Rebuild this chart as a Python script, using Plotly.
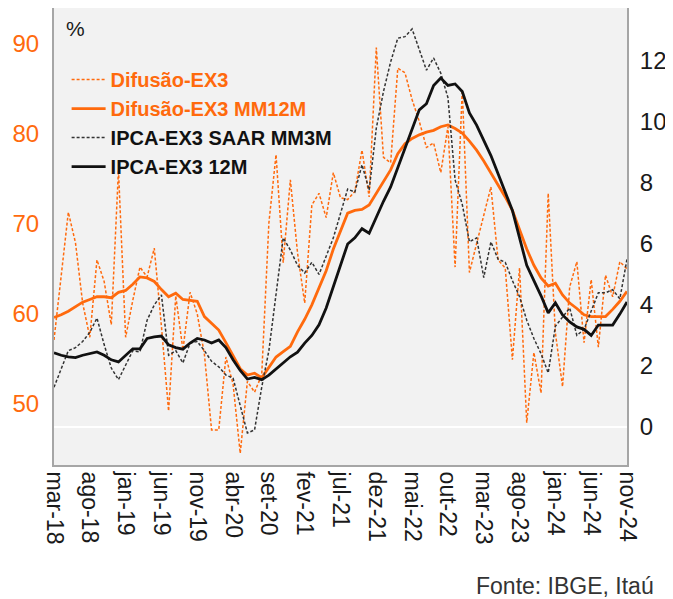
import plotly.graph_objects as go

# ---- data ----
MONTH_ABBR = ["jan", "fev", "mar", "abr", "mai", "jun", "jul", "ago", "set", "out", "nov", "dez"]
START_YEAR, START_MONTH, N_MONTHS = 2018, 3, 81
months = []
for k in range(N_MONTHS):
    m = (START_MONTH - 1 + k) % 12
    y = START_YEAR + (START_MONTH - 1 + k) // 12
    months.append(f"{MONTH_ABBR[m]}-{str(y)[2:]}")

tick_labels = months[::5]

difusao = [57.1, 64.0, 71.3, 67.9, 61.2, 57.4, 66.0, 63.6, 58.8, 76.0,
           57.4, 61.5, 65.2, 64.1, 67.3, 58.6, 49.2, 62.0, 56.0, 62.4,
           60.0, 55.5, 47.1, 47.1, 55.2, 52.2, 44.5, 52.5, 51.3, 53.2,
           70.1, 77.7, 65.7, 74.9, 66.8, 61.2, 72.1, 73.4, 70.7, 75.7,
           72.9, 72.7, 73.6, 78.2, 73.0, 89.6, 77.4, 76.8, 87.3, 86.8,
           83.8, 81.4, 78.5, 79.0, 75.7, 80.8, 65.2, 84.9, 64.6, 67.8,
           71.0, 74.1, 66.0, 65.1, 54.9, 65.1, 47.9, 55.7, 51.2, 73.4,
           57.9, 51.9, 63.0, 65.8, 56.8, 63.8, 56.3, 64.3, 61.9, 65.8, 65.0]

difusao_mm12 = [59.6, 59.9, 60.3, 60.8, 61.3, 61.6, 61.9, 61.9, 61.8, 62.4,
                62.6, 63.3, 64.1, 64.0, 63.6, 62.7, 61.9, 62.3, 61.6, 61.5,
                61.4, 59.7, 59.0, 58.2, 56.8, 55.3, 53.9, 53.2, 53.4, 52.9,
                54.0, 55.2, 55.8, 56.4, 58.0, 59.4, 61.0, 63.0, 64.8, 67.2,
                69.3, 71.2, 71.5, 71.6, 72.1, 73.4, 74.8, 76.0, 77.8, 78.9,
                79.5, 79.9, 80.2, 80.4, 80.8, 81.0, 80.6, 80.1, 79.2, 78.2,
                77.0, 75.7, 74.4, 73.0, 71.5, 69.3, 67.2, 65.4, 64.0, 63.1,
                63.4, 62.1, 61.2, 60.6, 59.9, 59.7, 59.7, 59.7, 60.5, 61.4, 62.5]

ipca_saar_mm3 = [1.3, 1.9, 2.5, 2.6, 2.8, 3.1, 3.57, 2.7, 1.93, 1.55,
                 2.0, 2.5, 2.46, 3.5, 4.0, 4.33, 2.35, 2.5, 2.1, 2.75,
                 2.8, 2.5, 2.15, 1.97, 1.7, 1.6, 0.7, -0.2, -0.1, 1.3,
                 2.5, 4.3, 6.2, 5.8, 5.3, 5.05, 5.4, 5.0, 5.6, 6.2,
                 7.0, 7.8, 7.7, 8.6, 7.77, 9.8, 11.0, 11.97, 12.75, 12.8,
                 13.05, 12.4, 11.7, 12.1, 11.6, 10.8, 8.1, 7.3, 6.07, 6.2,
                 4.9, 6.07, 5.5, 5.4, 4.8, 4.27, 3.5, 2.9, 2.4, 1.77,
                 3.3, 3.6, 3.9, 3.0, 3.2, 3.8, 4.4, 4.4, 4.5, 4.2, 5.5]

ipca_12m = [2.43, 2.35, 2.3, 2.27, 2.35, 2.4, 2.46, 2.35, 2.2, 2.13,
            2.35, 2.56, 2.56, 2.9, 2.95, 2.98, 2.69, 2.6, 2.55, 2.75,
            2.9, 2.85, 2.75, 2.85, 2.6, 2.2, 1.85, 1.57, 1.62, 1.55,
            1.7, 1.9, 2.1, 2.3, 2.45, 2.75, 3.0, 3.35, 3.9, 4.6,
            5.3, 6.0, 6.2, 6.5, 6.35, 6.9, 7.4, 7.87, 8.5, 9.1,
            9.7, 10.4, 10.6, 11.2, 11.44, 11.2, 11.25, 11.0, 10.3, 9.9,
            9.4, 8.9, 8.3, 7.7, 7.1, 6.2, 5.3, 4.8, 4.3, 3.74,
            4.07, 3.67, 3.44, 3.28, 3.2, 3.0, 3.34, 3.34, 3.34, 3.7, 4.1]

left_ticks = [50, 60, 70, 80, 90]
right_ticks = [0, 2, 4, 6, 8, 10, 12]

# ---- styles ----
ORANGE = "#FF6A0D"
BLACK = "#111111"
FONT = "Liberation Sans, Arial, sans-serif"

def lbl(text, color):
    return f"<b><span style='color:{color}'>{text}</span></b>"

fig = go.Figure()
fig.add_trace(go.Scatter(x=months, y=difusao, name=lbl("Difusão-EX3", ORANGE),
                         mode="lines", line=dict(color=ORANGE, width=1.5, dash="3px,2px"),
                         yaxis="y", legendgroup="a"))
fig.add_trace(go.Scatter(x=months, y=difusao_mm12, name=lbl("Difusão-EX3 MM12M", ORANGE),
                         mode="lines", line=dict(color=ORANGE, width=2.8),
                         yaxis="y", legendgroup="b"))
fig.add_trace(go.Scatter(x=months, y=ipca_saar_mm3, name=lbl("IPCA-EX3 SAAR MM3M", BLACK),
                         mode="lines", line=dict(color="#333333", width=1.5, dash="3px,2px"),
                         yaxis="y2", legendgroup="c"))
fig.add_trace(go.Scatter(x=months, y=ipca_12m, name=lbl("IPCA-EX3 12M", BLACK),
                         mode="lines", line=dict(color=BLACK, width=2.8),
                         yaxis="y2", legendgroup="d"))

# page body has an 8px default margin, so the figure is 8px smaller and offset
fig.update_layout(
    width=665, height=591,
    margin=dict(l=46, r=46, t=0, b=134, autoexpand=False),
    paper_bgcolor="white",
    plot_bgcolor="#F2F2F2",
    font=dict(family=FONT, color="#262626"),
    showlegend=True,
    legend=dict(x=0.022, y=0.886, xanchor="left", yanchor="top",
                bgcolor="rgba(0,0,0,0)", font=dict(size=20, family=FONT),
                traceorder="grouped", tracegroupgap=0, itemwidth=34),
    xaxis=dict(type="category", range=[0, N_MONTHS - 1],
               tickvals=tick_labels, ticktext=tick_labels, tickangle=90,
               tickfont=dict(size=23, color="#1a1a1a"),
               showgrid=False, showline=True, linecolor="#A6A6A6", linewidth=2,
               ticks="", zeroline=False),
    yaxis=dict(range=[43.2, 94], tickvals=left_ticks,
               tickfont=dict(size=24, color=ORANGE),
               showgrid=False, showline=True, linecolor="#A6A6A6", linewidth=2,
               ticks="", zeroline=False, ticklabelstandoff=8),
    yaxis2=dict(range=[-1.25, 13.74], tickvals=right_ticks, overlaying="y", side="right",
                tickfont=dict(size=24, color="#1a1a1a"),
                showgrid=False, showline=True, linecolor="#A6A6A6", linewidth=2,
                ticks="", zeroline=True, zerolinecolor="white", zerolinewidth=2,
                ticklabelstandoff=6),
    annotations=[
        dict(text="%", xref="paper", yref="paper", x=0.018, y=0.985,
             xanchor="left", yanchor="top", showarrow=False,
             font=dict(size=21, color="#1a1a1a", family=FONT)),
        dict(text="Fonte: IBGE, Itaú", xref="paper", yref="paper", x=1.05, y=-0.265,
             xanchor="right", yanchor="middle", showarrow=False,
             font=dict(size=23, color="#333333", family=FONT)),
    ],
)

fig.write_html("out.html")
